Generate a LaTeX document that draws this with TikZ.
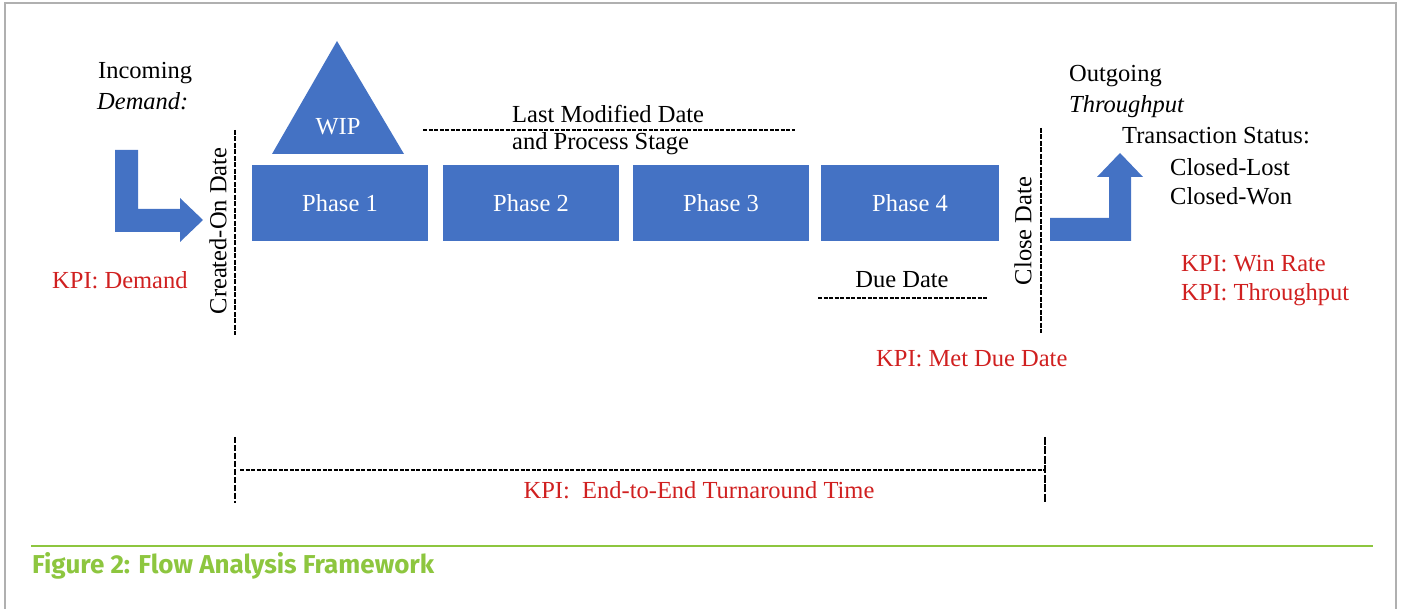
\documentclass[tikz,border=0pt]{standalone}
\usepackage{fontspec}
\setmainfont{Liberation Serif}
\newfontfamily\capfont{Fira Sans}
\definecolor{blu}{HTML}{4472C4}
\definecolor{kpired}{RGB}{208,32,32}
\definecolor{capgreen}{RGB}{141,198,63}
\definecolor{framegray}{RGB}{176,176,176}
\begin{document}
\begin{tikzpicture}[x=1pt,y=-1pt,
  txt/.style={font=\fontsize{24.5}{28}\selectfont, inner sep=0pt, text=black},
  kpi/.style={txt, text=kpired},
  phasebox/.style={fill=blu, draw=none, minimum width=176pt, minimum height=76pt,
     text=white, font=\fontsize{24.5}{28}\selectfont, inner sep=0pt},
  dline/.style={draw=black, line width=2pt, dash pattern=on 5pt off 1.5pt},
  hline/.style={draw=black, line width=1.6pt, dash pattern=on 4pt off 1.5pt},
  blueshape/.style={fill=blu, draw=none}]
\useasboundingbox (0,0) rectangle (1401,609);
% frame
\draw[framegray, line width=2pt] (5,609) -- (5,3) -- (1396,3) -- (1396,609);

% incoming
\node[txt, anchor=west] (inc) at (98,73) {Incoming};
\node[txt, anchor=west] (dem) at (97,101) {\itshape Demand:};
\fill[blueshape] (115,150) -- (138,150) -- (138,209) -- (180,209) -- (180,198)
  -- (203,220) -- (180,242) -- (180,232) -- (115,232) -- cycle;
\node[kpi, anchor=west] (kpidem) at (52,280) {KPI: Demand};

% created-on date
\coordinate (c1) at (235,130);
\coordinate (c2) at (235,335);
\draw[dline] (c1) -- (c2);
\node[txt, rotate=90] (created) at (218,231) {Created-On Date};

% WIP
\fill[blueshape] (337,41) -- (404,154) -- (272,154) -- cycle;
\node[txt, text=white] (wip) at (338,127) {WIP};

% phases
\node[phasebox] (p1) at (340,203) {Phase 1};
\node[phasebox] (p2) at (531,203) {Phase 2};
\node[phasebox] (p3) at (721,203) {Phase 3};
\node[phasebox, minimum width=178pt] (p4) at (910,203) {Phase 4};

% last modified
\node[txt, anchor=west] (lmd) at (512,114) {Last Modified Date};
\node[txt, anchor=west] (aps) at (512,144) {and Process Stage};
\coordinate (l1) at (423,130);
\coordinate (l2) at (795,130);
\draw[hline] (l1) -- (l2);

% due date
\node[txt] (due) at (902,280) {Due Date};
\coordinate (d1) at (818,298);
\coordinate (d2) at (988,298);
\draw[hline] (d1) -- (d2);
\node[kpi, anchor=west] (kpimet) at (876,359) {KPI: Met Due Date};

% close date
\coordinate (cl1) at (1041,128);
\coordinate (cl2) at (1041,333);
\draw[dline] (cl1) -- (cl2);
\node[txt, rotate=90] (close) at (1023,231) {Close Date};

% outgoing
\node[txt, anchor=west] (out) at (1069,76) {Outgoing};
\node[txt, anchor=west] (thr) at (1069,107) {\itshape Throughput};
\node[txt, anchor=west] (ts) at (1122,136) {Transaction Status:};
\node[txt, anchor=west] (cl) at (1170,167) {Closed-Lost};
\node[txt, anchor=west] (cw) at (1170,196) {Closed-Won};
\fill[blueshape] (1050,218) -- (1109,218) -- (1109,177) -- (1097,177) -- (1120,153)
  -- (1143,177) -- (1131,177) -- (1131,241) -- (1050,241) -- cycle;
\node[kpi, anchor=west] (kpiwin) at (1181,264) {KPI: Win Rate};
\node[kpi, anchor=west] (kpithr) at (1181,295) {KPI: Throughput};

% end-to-end
\coordinate (b1) at (235,437);
\coordinate (b2) at (235,503);
\coordinate (b3) at (1045,437);
\coordinate (b4) at (1045,503);
\coordinate (h1) at (240,470);
\coordinate (h2) at (1045,470);
\draw[dline, line width=1.4pt, dash pattern=on 6pt off 2pt] (b1) -- (b2);
\draw[dline, line width=2.4pt, dash pattern=on 8pt off 1.5pt] (b3) -- (b4);
\draw[hline] (h1) -- (h2);
\node[kpi] (kpie2e) at (699,490) {KPI:\ \ End-to-End Turnaround Time};

% caption
\coordinate (g1) at (31,546);
\coordinate (g2) at (1373,546);
\draw[capgreen, line width=2.5pt] (g1) -- (g2);
\node[anchor=base west, inner sep=0pt, text=capgreen] (cap) at (32,573)
  {\resizebox{402pt}{21pt}{\capfont\bfseries Figure 2: Flow Analysis Framework}};
\end{tikzpicture}
\end{document}
